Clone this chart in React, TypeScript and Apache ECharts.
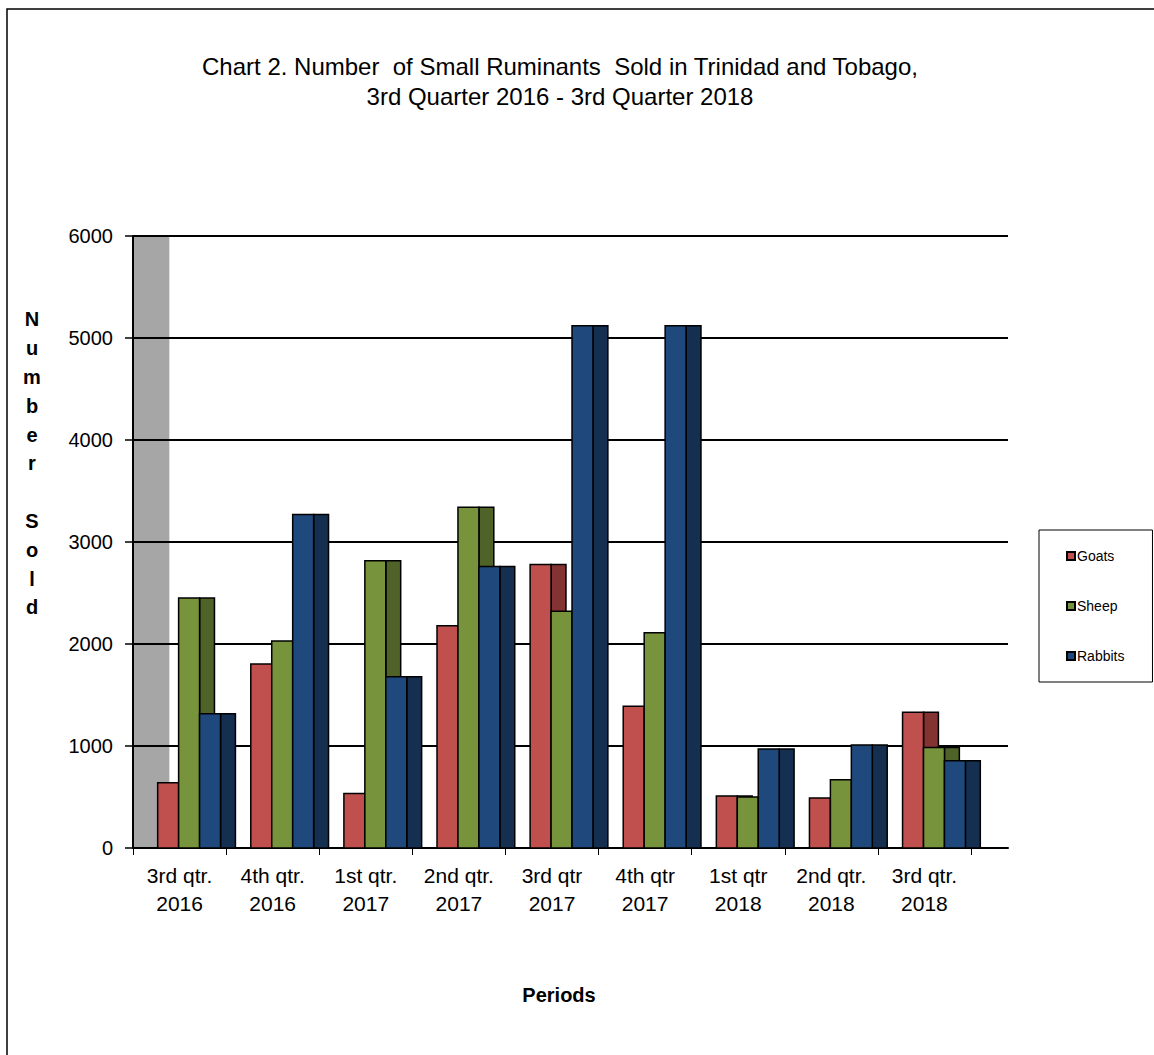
import React, { useEffect, useRef } from "react";
import * as echarts from "echarts";

const categories = [
  "3rd qtr.\n2016",
  "4th qtr.\n2016",
  "1st qtr.\n2017",
  "2nd qtr.\n2017",
  "3rd qtr\n2017",
  "4th qtr\n2017",
  "1st qtr\n2018",
  "2nd qtr.\n2018",
  "3rd qtr.\n2018",
];
const goats = [640, 1805, 535, 2180, 2780, 1390, 510, 490, 1330];
const sheep = [2450, 2030, 2815, 3340, 2320, 2110, 500, 670, 985];
const rabbits = [1315, 3270, 1680, 2760, 5120, 5120, 970, 1010, 855];
const seriesNames = ["Goats", "Sheep", "Rabbits"];
const yTicks = [0, 1000, 2000, 3000, 4000, 5000, 6000];

const FRONT_COLORS = ["#C0504D", "#77933C", "#1F497D"];
const SIDE_COLORS = ["#823332", "#4F6228", "#152F50"];

const START = 0.265; // fraction of band where first bar begins
const FRONT = 0.225; // front face width (fraction of band)
const SIDE = 0.16; // side (depth) face width
const DEPTH = 0.39; // wall / floor depth in band units

const FONT = "'Liberation Sans', Arial, sans-serif";

export default function App() {
  const ref = useRef<HTMLDivElement>(null);

  useEffect(() => {
    if (!ref.current) return;
    const chart = echarts.init(ref.current, null, { renderer: "svg" });

    const makeSeries = (k: number, values: number[]) => ({
      name: seriesNames[k],
      type: "custom",
      xAxisIndex: 1,
      yAxisIndex: 1,
      z: 5,
      itemStyle: { color: FRONT_COLORS[k], borderColor: "#000", borderWidth: 1 },
      data: values.map((v, i) => [i, v]),
      renderItem: (params: any, api: any) => {
        const idx = api.value(0);
        const val = api.value(1);
        const base = api.coord([idx, 0]);
        const top = api.coord([idx, val]);
        const bw = api.size([1, 0])[0];
        const x0 = base[0] - 0.5 * bw + (START + k * FRONT) * bw;
        const fw = FRONT * bw;
        const sw = SIDE * bw;
        const h = base[1] - top[1];
        return {
          type: "group",
          children: [
            {
              type: "rect",
              shape: { x: x0 + fw, y: top[1], width: sw, height: h },
              style: { fill: SIDE_COLORS[k], stroke: "#000", lineWidth: 1.5 },
            },
            {
              type: "rect",
              shape: { x: x0, y: top[1], width: fw, height: h },
              style: { fill: FRONT_COLORS[k], stroke: "#000", lineWidth: 1.5 },
            },
          ],
        };
      },
    });

    const option: any = {
      animation: false,
      backgroundColor: "#fff",
      textStyle: { fontFamily: FONT },
      title: {
        text: "Chart 2. Number  of Small Ruminants  Sold in Trinidad and Tobago,\n3rd Quarter 2016 - 3rd Quarter 2018",
        left: 555,
        top: 46,
        textAlign: "center",
        textStyle: {
          fontFamily: FONT,
          fontSize: 24,
          fontWeight: "normal",
          color: "#000",
          lineHeight: 30,
        },
      },
      legend: {
        orient: "vertical",
        left: 1039,
        top: 530,
        data: seriesNames,
        itemWidth: 8,
        itemHeight: 8,
        itemGap: 36,
        icon: "rect",
        padding: [19, 28, 19, 27],
        borderColor: "#000",
        borderWidth: 1,
        textStyle: { fontFamily: FONT, fontSize: 14, color: "#000", padding: [0, 0, 0, -3] },
        selectedMode: false,
      },
      grid: [
        { left: 133, top: 236, width: 875, height: 612 },
        { left: 133, top: 236, width: 838, height: 612 },
      ],
      xAxis: [
        {
          gridIndex: 0,
          type: "value",
          min: 0,
          max: categories.length + DEPTH,
          axisLine: { show: true, lineStyle: { color: "#000", width: 2 } },
          axisTick: { show: false },
          axisLabel: { show: false },
          splitLine: { show: false },
          z: 3,
        },
        {
          gridIndex: 1,
          type: "category",
          data: categories,
          boundaryGap: true,
          axisLine: { show: false },
          axisTick: { show: true, length: 7, lineStyle: { color: "#000", width: 1 } },
          axisLabel: {
            fontFamily: FONT,
            fontSize: 21,
            color: "#000",
            lineHeight: 28,
            margin: 13,
            interval: 0,
          },
        },
      ],
      yAxis: [
        {
          gridIndex: 0,
          type: "value",
          min: yTicks[0],
          max: yTicks[yTicks.length - 1],
          interval: 1000,
          axisLine: { show: true, lineStyle: { color: "#000", width: 2 } },
          axisTick: { show: true, inside: false, length: 8, lineStyle: { color: "#000", width: 1.5 } },
          axisLabel: {
            fontFamily: FONT,
            fontSize: 20,
            color: "#000",
            margin: 20,
            formatter: (v: number) => String(v),
          },
          splitLine: { show: true, lineStyle: { color: "#000", width: 2 } },
          z: 3,
        },
        {
          gridIndex: 1,
          type: "value",
          min: yTicks[0],
          max: yTicks[yTicks.length - 1],
          interval: 1000,
          show: false,
        },
      ],
      graphic: [
        {
          type: "rect",
          shape: { x: 7, y: 9, width: 1200, height: 1100 },
          style: { fill: "none", stroke: "#000", lineWidth: 1.5 },
          silent: true,
        },
        {
          type: "text",
          x: 32,
          y: 305,
          style: {
            text: "N\nu\nm\nb\ne\nr\n\nS\no\nl\nd",
            font: `bold 20px ${FONT}`,
            fill: "#000",
            textAlign: "center",
            lineHeight: 28.8,
          },
        },
        {
          type: "text",
          x: 559,
          y: 995,
          style: {
            text: "Periods",
            font: `bold 20px ${FONT}`,
            fill: "#000",
            textAlign: "center",
            textVerticalAlign: "middle",
          },
        },
      ],
      series: [
        {
          type: "custom",
          xAxisIndex: 0,
          yAxisIndex: 0,
          z: 1,
          silent: true,
          data: [],
          renderItem: () => null,
          markArea: {
            silent: true,
            itemStyle: { color: "#A6A6A6" },
            data: [[{ xAxis: 0, yAxis: 0 }, { xAxis: DEPTH, yAxis: 6000 }]],
          },
        },
        makeSeries(0, goats),
        makeSeries(1, sheep),
        makeSeries(2, rabbits),
      ],
    };

    chart.setOption(option);
    return () => chart.dispose();
  }, []);

  return (
    <div
      ref={ref}
      style={{ position: "absolute", left: 0, top: 0, width: 1154, height: 1055 }}
    />
  );
}
